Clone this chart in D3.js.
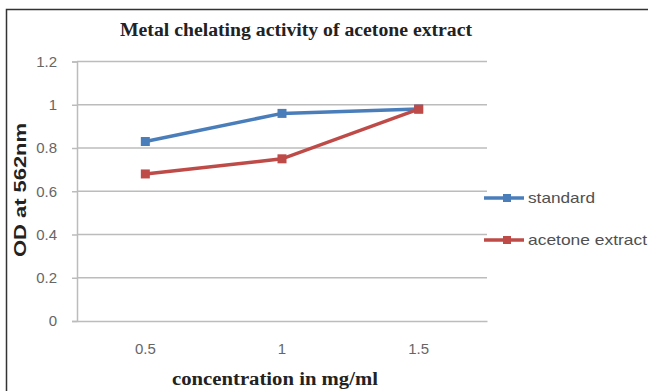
<!DOCTYPE html>
<html>
<head>
<meta charset="utf-8">
<script src="https://cdn.jsdelivr.net/npm/d3@7"></script>
<style>
  body { margin: 0; background: #fff; }
  svg { display: block; }
</style>
</head>
<body>
<svg id="chart" width="648" height="391"></svg>
<script>
const categories = ["0.5", "1", "1.5"];
const standard = [0.83, 0.96, 0.98];
const acetone = [0.68, 0.75, 0.98];
const yTicks = [0, 0.2, 0.4, 0.6, 0.8, 1, 1.2];

const series = [
  { name: "standard", values: standard, color: "#4a7ebb" },
  { name: "acetone extract", values: acetone, color: "#be4b48" }
];

const plotLeft = 77, plotRight = 487, plotTop = 61.5, plotBottom = 321;

const svg = d3.select("#chart");

// outer frame
svg.append("rect")
  .attr("x", 6.5).attr("y", 9.5)
  .attr("width", 700).attr("height", 500)
  .attr("fill", "none")
  .attr("stroke", "#333")
  .attr("stroke-width", 1.5);

const x = d3.scaleBand().domain(categories).range([plotLeft, plotRight]);
const y = d3.scaleLinear().domain([0, 1.2]).range([plotBottom, plotTop]);

// gridlines
svg.append("g")
  .selectAll("line")
  .data(yTicks.filter(d => d > 0))
  .enter()
  .append("line")
  .attr("x1", plotLeft).attr("x2", plotRight)
  .attr("y1", d => y(d)).attr("y2", d => y(d))
  .attr("stroke", "#bcbcbc")
  .attr("stroke-width", 1.5);

// y axis
const yAxis = d3.axisLeft(y).tickValues(yTicks).tickSize(5).tickPadding(15).tickFormat(d => d3.format("")(d));
const gy = svg.append("g")
  .attr("transform", `translate(${plotLeft},0)`)
  .call(yAxis);
gy.select(".domain").attr("stroke", "#bcbcbc").attr("stroke-width", 1.5);
gy.selectAll(".tick line").attr("stroke", "#bcbcbc").attr("stroke-width", 1.5);
gy.selectAll("text")
  .attr("fill", "#666")
  .attr("font-size", 15)
  .attr("font-family", "Liberation Sans, Arial, sans-serif");

// x axis
const xAxis = d3.axisBottom(x).tickSize(0).tickPadding(22);
const gx = svg.append("g")
  .attr("transform", `translate(0,${plotBottom})`)
  .call(xAxis);
gx.select(".domain").attr("stroke", "#bcbcbc").attr("stroke-width", 1.5);
gx.selectAll("text")
  .attr("fill", "#666")
  .attr("font-size", 15)
  .attr("font-family", "Liberation Sans, Arial, sans-serif");

// lines and markers
const line = d3.line()
  .x((d, i) => x(categories[i]) + x.bandwidth() / 2)
  .y(d => y(d));

series.forEach(s => {
  svg.append("path")
    .datum(s.values)
    .attr("d", line)
    .attr("fill", "none")
    .attr("stroke", s.color)
    .attr("stroke-width", 3.5);

  svg.append("g")
    .selectAll("rect")
    .data(s.values)
    .enter()
    .append("rect")
    .attr("x", (d, i) => x(categories[i]) + x.bandwidth() / 2 - 4.5)
    .attr("y", d => y(d) - 4.5)
    .attr("width", 9).attr("height", 9)
    .attr("fill", s.color);
});

// legend
const legend = svg.append("g");
series.forEach((s, i) => {
  const ly = 198 + i * 42;
  legend.append("line")
    .attr("x1", 484).attr("x2", 524)
    .attr("y1", ly).attr("y2", ly)
    .attr("stroke", s.color).attr("stroke-width", 3.5);
  legend.append("rect")
    .attr("x", 503).attr("y", ly - 4)
    .attr("width", 8).attr("height", 8)
    .attr("fill", s.color);
  legend.append("text")
    .attr("x", 528).attr("y", ly + 5)
    .attr("fill", "#505050")
    .attr("textLength", i === 0 ? 67 : 119)
    .attr("lengthAdjust", "spacingAndGlyphs")
    .style("font-family", "Liberation Sans, Arial, sans-serif")
    .style("font-size", "15px")
    .text(s.name);
});

// title
svg.append("text")
  .attr("x", 296).attr("y", 36)
  .attr("text-anchor", "middle")
  .attr("textLength", 352)
  .attr("lengthAdjust", "spacingAndGlyphs")
  .attr("fill", "#222")
  .style("font-family", "Liberation Serif, Times New Roman, serif")
  .style("font-weight", "bold")
  .style("font-size", "18px")
  .text("Metal chelating activity of acetone extract");

// axis titles
svg.append("text")
  .attr("x", 275).attr("y", 385)
  .attr("text-anchor", "middle")
  .attr("textLength", 206)
  .attr("lengthAdjust", "spacingAndGlyphs")
  .attr("fill", "#222")
  .style("font-family", "Liberation Serif, Times New Roman, serif")
  .style("font-weight", "bold")
  .style("font-size", "18px")
  .text("concentration in mg/ml");

svg.append("text")
  .attr("transform", "translate(26,190) rotate(-90)")
  .attr("text-anchor", "middle")
  .attr("textLength", 134)
  .attr("lengthAdjust", "spacingAndGlyphs")
  .attr("fill", "#222")
  .style("font-family", "Liberation Sans, Arial, sans-serif")
  .style("font-weight", "bold")
  .style("font-size", "16px")
  .text("OD at 562nm");
</script>
</body>
</html>
